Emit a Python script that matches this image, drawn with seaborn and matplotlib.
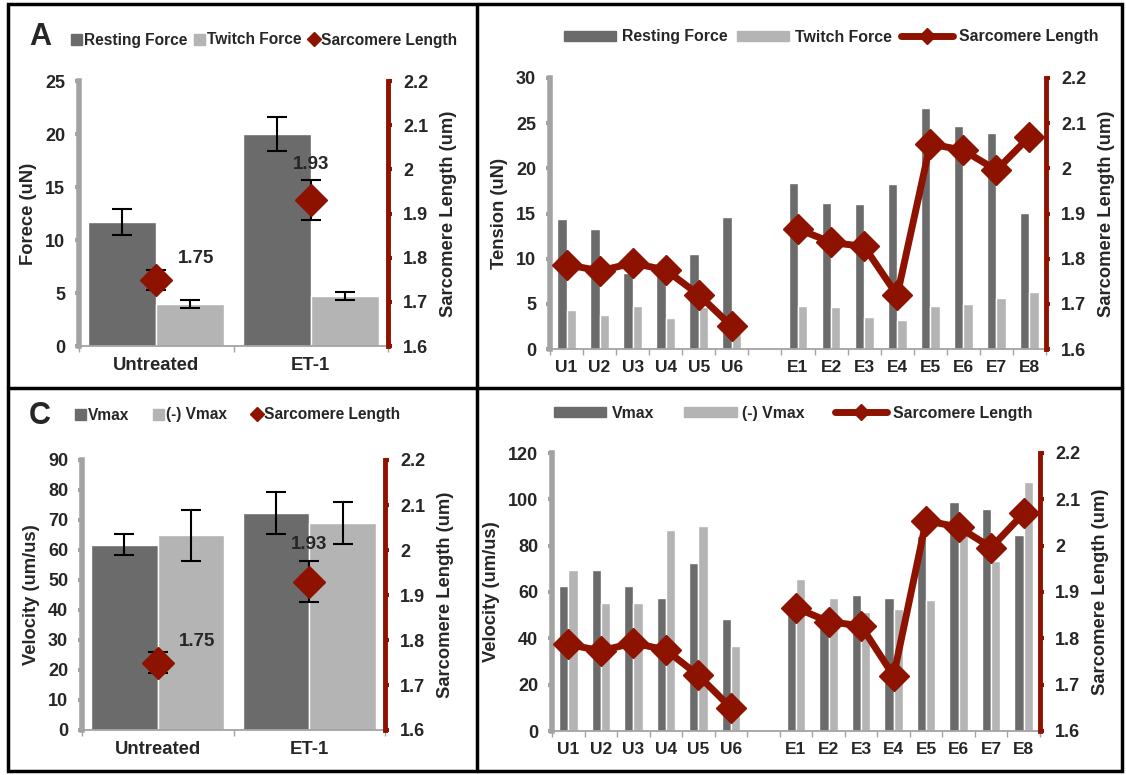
import numpy as np
import pandas as pd
import matplotlib
matplotlib.use("Agg")
import matplotlib.pyplot as plt
import seaborn as sns
from matplotlib.lines import Line2D
from matplotlib.patches import Patch, Rectangle
from matplotlib.ticker import MultipleLocator, FixedLocator, FuncFormatter

# ---- group summary data (panels A and C) ----
groups = ['Untreated', 'ET-1']
resting_mean = [11.7, 20.0]
resting_sd = [1.2, 1.6]
twitch_mean = [3.95, 4.7]
twitch_sd = [0.35, 0.35]
vmax_mean = [61.7, 72.4]
vmax_sd = [3.5, 7.0]
neg_vmax_mean = [65.0, 69.0]
neg_vmax_sd = [8.5, 7.0]
sl_mean = [1.75, 1.93]
sl_sd = [0.023, 0.045]

# ---- individual cells (right panels) ----
cells_u = ['U1', 'U2', 'U3', 'U4', 'U5', 'U6']
cells_e = ['E1', 'E2', 'E3', 'E4', 'E5', 'E6', 'E7', 'E8']
cell_resting = [14.4, 13.3, 8.4, 8.2, 10.5, 14.6,
                18.4, 16.2, 16.0, 18.3, 26.7, 24.7, 23.9, 15.1]
cell_twitch = [4.3, 3.8, 4.8, 3.4, 4.6, 2.0,
               4.8, 4.6, 3.5, 3.2, 4.8, 5.0, 5.6, 6.3]
cell_vmax = [62.4, 69.6, 62.4, 57.5, 72.7, 48.5,
             53.0, 47.0, 58.5, 57.5, 84.0, 98.7, 95.7, 84.6]
cell_neg_vmax = [69.6, 55.4, 55.4, 86.6, 88.7, 36.5,
                 65.5, 57.5, 51.5, 52.5, 56.7, 88.0, 73.4, 107.6]
cell_sl_u = [1.787, 1.773, 1.790, 1.775, 1.720, 1.650]
cell_sl_e = [1.866, 1.836, 1.827, 1.719, 2.054, 2.040, 1.996, 2.070]

cell_order = cells_u + [''] + cells_e

DARK = '#6b6b6b'
LIGHT = '#b4b4b4'
RED = '#8e1200'
AXGRAY = '#a3a3a3'

sns.set_theme(style="white")
plt.rcParams['font.family'] = ['Liberation Sans', 'DejaVu Sans']
plt.rcParams['font.weight'] = 'bold'
plt.rcParams['axes.labelweight'] = 'bold'

W, H = 1126, 775
fig = plt.figure(figsize=(W / 100, H / 100), dpi=100)


def rect(l, r, t, b):
    return [l / W, 1 - b / H, (r - l) / W, (b - t) / H]


def style(ax, ax2, ymax, ystep, ylabel, ncat, xsize):
    ax.set_ylim(0, ymax)
    ax.set_xlim(-0.5, ncat - 0.5)
    ax.yaxis.set_major_locator(MultipleLocator(ystep))
    for s in ['top', 'right']:
        ax.spines[s].set_visible(False)
    ax.spines['left'].set_color(AXGRAY)
    ax.spines['left'].set_linewidth(4)
    ax.spines['bottom'].set_color(AXGRAY)
    ax.spines['bottom'].set_linewidth(1.3)
    ax.tick_params(axis='y', left=True, length=3, width=3, color=AXGRAY,
                   labelsize=13, pad=7)
    ax.xaxis.set_minor_locator(FixedLocator(np.arange(-0.5, ncat, 1)))
    ax.tick_params(axis='x', which='major', length=0, labelsize=xsize, pad=8)
    ax.tick_params(axis='x', which='minor', bottom=True, length=4, width=1, color=AXGRAY)
    ax.set_ylabel(ylabel, fontsize=13.2, labelpad=6)
    ax.set_xlabel('')

    ax2.set_ylim(1.6, 2.2)
    ax2.yaxis.set_major_locator(MultipleLocator(0.1))
    ax2.yaxis.set_major_formatter(FuncFormatter(lambda v, p: f'{round(v, 1):g}'))
    for s in ['top', 'left', 'bottom']:
        ax2.spines[s].set_visible(False)
    ax2.spines['right'].set_color(RED)
    ax2.spines['right'].set_linewidth(3.5)
    ax2.tick_params(axis='y', right=True, length=3, width=3, color=RED,
                    labelsize=13, pad=8)
    ax2.set_ylabel('Sarcomere Length (um)', fontsize=13.2, labelpad=8)


def group_panel(box, m1, s1, m2, s2, names, ymax, ystep, ylabel, letter, letter_y,
                leg_xy, gaps, lab_off):
    ax = fig.add_axes(rect(*box))
    df = pd.DataFrame({'group': groups * 2,
                       'measure': [names[0]] * 2 + [names[1]] * 2,
                       'value': m1 + m2})
    sns.barplot(data=df, x='group', y='value', hue='measure', palette=[DARK, LIGHT],
                width=0.88, errorbar=None, saturation=1, legend=False, ax=ax)
    for cont, sds in zip(ax.containers, [s1, s2]):
        for bar, sd in zip(cont, sds):
            ax.errorbar(bar.get_x() + bar.get_width() / 2, bar.get_height(), yerr=sd,
                        color='black', capsize=7, lw=1.5, capthick=1.5)
    ax2 = ax.twinx()
    ax2.errorbar(range(len(groups)), sl_mean, yerr=sl_sd, fmt='D', ms=16,
                 mfc=RED, mec=RED, ecolor='black', capsize=7, lw=1.5, capthick=1.5)
    for i, v in enumerate(sl_mean):
        ax2.annotate(f'{v:.2f}', (i, v), xytext=lab_off[i], textcoords='offset points',
                     ha='center', va='center', fontsize=13.5)
    style(ax, ax2, ymax, ystep, ylabel, len(groups), 13.3)
    handles = [Patch(color=DARK), Patch(color=LIGHT),
               Line2D([], [], ls='none', marker='D', ms=7, color=RED)]
    ax2.legend(handles, names + ['Sarcomere Length'], ncol=3, frameon=False,
               loc='center left', bbox_to_anchor=leg_xy, bbox_transform=fig.transFigure,
               fontsize=11.2, handlelength=0.7, handleheight=0.7, handletextpad=0.12,
               columnspacing=gaps, borderpad=0, borderaxespad=0)
    fig.text(40 / W, 1 - letter_y / H, letter, fontsize=22, fontweight='bold',
             ha='center', va='center')


def cell_panel(box, v1, v2, names, ymax, ystep, ylabel, leg_xy, gaps):
    ax = fig.add_axes(rect(*box))
    cells = cells_u + cells_e
    df = pd.DataFrame({'cell': cells * 2,
                       'measure': [names[0]] * len(cells) + [names[1]] * len(cells),
                       'value': v1 + v2})
    sns.barplot(data=df, x='cell', y='value', hue='measure', order=cell_order,
                palette=[DARK, LIGHT], width=0.57, errorbar=None, saturation=1,
                legend=False, ax=ax)
    ax2 = ax.twinx()
    xu = [cell_order.index(c) for c in cells_u]
    xe = [cell_order.index(c) for c in cells_e]
    for xs, ys in [(xu, cell_sl_u), (xe, cell_sl_e)]:
        ax2.plot(xs, ys, color=RED, lw=5, marker='D', ms=15)
    style(ax, ax2, ymax, ystep, ylabel, len(cell_order), 12.5)
    handles = [Patch(color=DARK), Patch(color=LIGHT),
               Line2D([], [], color=RED, lw=5, marker='D', ms=8)]
    ax2.legend(handles, names + ['Sarcomere Length'], ncol=3, frameon=False,
               loc='center left', bbox_to_anchor=leg_xy, bbox_transform=fig.transFigure,
               fontsize=11.4, handlelength=3.3, handleheight=0.6, handletextpad=0.35,
               columnspacing=gaps, borderpad=0, borderaxespad=0)


group_panel((79, 388, 81, 346), resting_mean, resting_sd, twitch_mean, twitch_sd,
            ['Resting Force', 'Twitch Force'], 25, 5, 'Forece (uN)', 'A', 37,
            (71 / W, 1 - 40 / H), 0.45, [(29, 15), (0, 26)])
group_panel((82, 385, 460, 730), vmax_mean, vmax_sd, neg_vmax_mean, neg_vmax_sd,
            ['Vmax', '(-) Vmax'], 90, 10, 'Velocity (um/us)', 'C', 416,
            (75 / W, 1 - 415 / H), 1.55, [(28, 15), (0, 27)])
cell_panel((550, 1046, 78, 349), cell_resting, cell_twitch,
           ['Resting Force', 'Twitch Force'], 30, 5, 'Tension (uN)',
           (564 / W, 1 - 37 / H), 0.6)
cell_panel((552, 1040, 453, 731), cell_vmax, cell_neg_vmax,
           ['Vmax', '(-) Vmax'], 120, 20, 'Velocity (um/us)',
           (554 / W, 1 - 413 / H), 1.9)

# panel frames
fig.add_artist(Rectangle((8 / W, 4 / H), 1114 / W, 767 / H, transform=fig.transFigure,
                         fill=False, ec='black', lw=2.5))
fig.add_artist(Line2D([8 / W, 1122 / W], [1 - 388 / H, 1 - 388 / H],
                      transform=fig.transFigure, color='black', lw=2.5))
fig.add_artist(Line2D([477 / W, 477 / W], [4 / H, 1 - 6 / H],
                      transform=fig.transFigure, color='black', lw=2.5))

fig.savefig('out.png', dpi=100)
